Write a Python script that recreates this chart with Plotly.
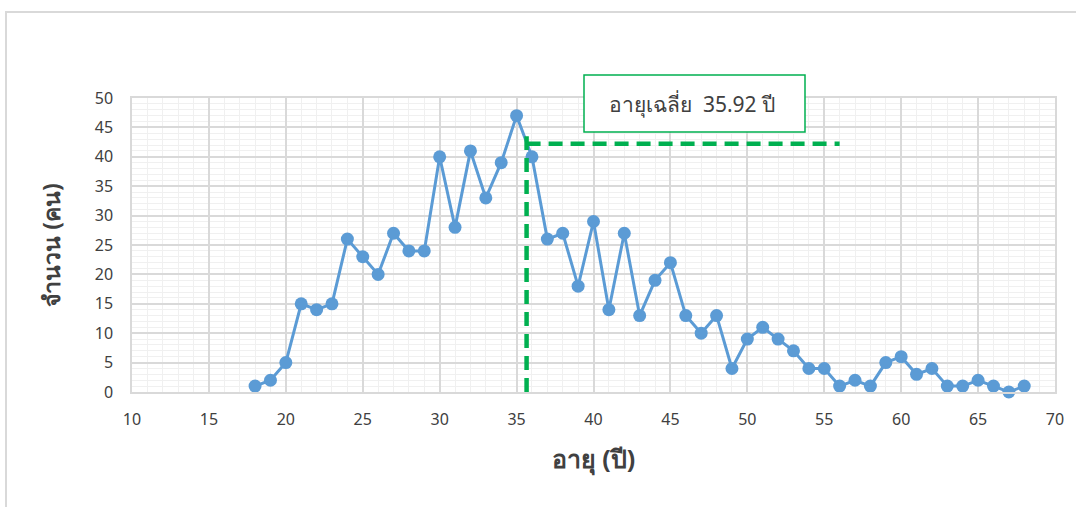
import plotly.graph_objects as go

ages = list(range(18, 69))
counts = [1, 2, 5, 15, 14, 15, 26, 23, 20, 27, 24, 24, 40, 28, 41, 33, 39, 47, 40, 26,
          27, 18, 29, 14, 27, 13, 19, 22, 13, 10, 13, 4, 9, 11, 9, 7, 4, 4, 1, 2,
          1, 5, 6, 3, 4, 1, 1, 2, 1, 0, 1]

mean_line_x = [35.65, 35.65]
mean_line_y = [0, 43.5]
mean_h_x = [35.65, 56.0]
mean_h_y = [42.2, 42.2]
mean_label = "อายุเฉลี่ย  35.92 ปี"

x_title = "อายุ (ปี)"
y_title = "จำนวน (คน)"

FONT = "Tahoma, 'Noto Sans', 'DejaVu Sans', sans-serif"
GREEN = "#00b050"

W, H = 1076, 507
L, R, T, B = 132, 21, 98, 115
PW = W - L - R
PH = H - T - B


def px(x):
    return (x - L) / PW


def py(y):
    return (H - B - y) / PH


fig = go.Figure()
fig.add_trace(go.Scatter(
    x=ages, y=counts, mode="lines+markers",
    line=dict(color="#5b9bd5", width=3),
    marker=dict(color="#5b9bd5", size=13),
    showlegend=False, cliponaxis=False,
))
fig.add_trace(go.Scatter(
    x=mean_line_x, y=mean_line_y, mode="lines",
    line=dict(color=GREEN, width=4.5, dash="14px,8px"),
    showlegend=False, cliponaxis=False,
))
fig.add_trace(go.Scatter(
    x=mean_h_x, y=mean_h_y, mode="lines",
    line=dict(color=GREEN, width=4.5, dash="14px,8px"),
    showlegend=False, cliponaxis=False,
))

fig.add_annotation(
    x=px(692), y=py(104), xref="paper", yref="paper", text=mean_label, showarrow=False,
    xanchor="center", yanchor="middle",
    font=dict(family=FONT, size=21, color="#404040"),
)

fig.update_layout(
    width=W, height=H, autosize=False,
    margin=dict(l=L, r=R, t=T, b=B),
    paper_bgcolor="white", plot_bgcolor="white",
    font=dict(family=FONT, color="#404040"),
    shapes=[
        dict(type="rect", xref="paper", yref="paper",
             x0=px(6), x1=1.2, y0=-0.6, y1=py(12),
             line=dict(color="#d9d9d9", width=2), fillcolor="rgba(0,0,0,0)", layer="below"),
        dict(type="rect", xref="paper", yref="paper",
             x0=px(584), x1=px(805), y0=py(132), y1=py(75),
             line=dict(color=GREEN, width=1.5), fillcolor="white", layer="above"),
    ],
    xaxis=dict(
        range=[10, 70], tick0=10, dtick=5, showgrid=True, gridcolor="#d9d9d9", gridwidth=1.5,
        minor=dict(dtick=1, showgrid=True, gridcolor="#f0f0f0", gridwidth=1),
        showline=True, linecolor="#d9d9d9", linewidth=1.5, mirror=True,
        zeroline=False, ticks="", tickfont=dict(size=16, color="#404040"),
        ticklabelstandoff=12,
        title=dict(text="<b>" + x_title + "</b>", font=dict(size=25, color="#404040"), standoff=22),
    ),
    yaxis=dict(
        range=[0, 50], tick0=0, dtick=5, showgrid=True, gridcolor="#d9d9d9", gridwidth=1.5,
        minor=dict(dtick=1, showgrid=True, gridcolor="#f0f0f0", gridwidth=1),
        showline=True, linecolor="#d9d9d9", linewidth=1.5, mirror=True,
        zeroline=False, ticks="", tickfont=dict(size=16, color="#404040"),
        ticklabelstandoff=14,
        title=dict(text="<b>" + y_title + "</b>", font=dict(size=23, color="#404040"), standoff=28),
    ),
)

fig.write_html("out.html", config={"displayModeBar": False},
               post_script="document.body.style.margin='0';")
